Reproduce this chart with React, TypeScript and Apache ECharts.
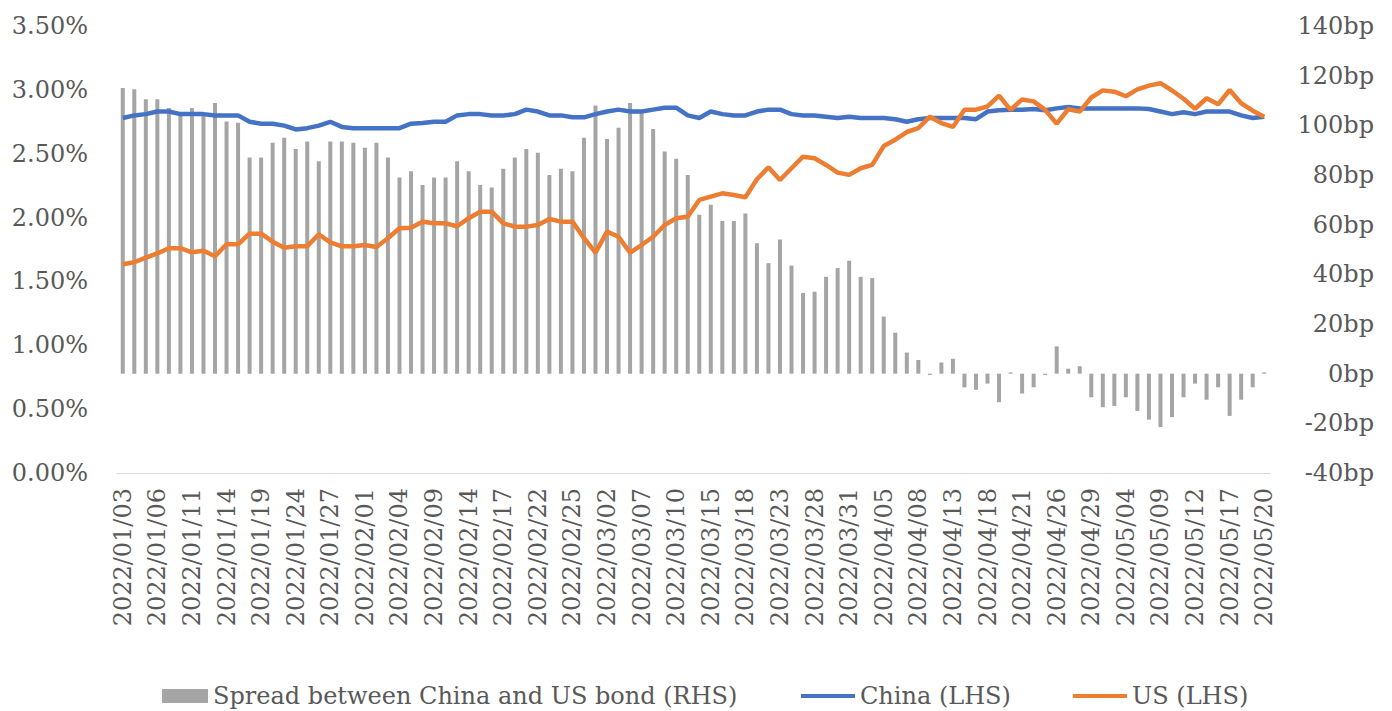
import React, { useEffect, useRef } from "react";
import * as echarts from "echarts";

const dates: string[] = [
  "2022/01/03","2022/01/04","2022/01/05","2022/01/06","2022/01/07","2022/01/10","2022/01/11","2022/01/12","2022/01/13","2022/01/14",
  "2022/01/17","2022/01/18","2022/01/19","2022/01/20","2022/01/21","2022/01/24","2022/01/25","2022/01/26","2022/01/27","2022/01/28",
  "2022/01/31","2022/02/01","2022/02/02","2022/02/03","2022/02/04","2022/02/07","2022/02/08","2022/02/09","2022/02/10","2022/02/11",
  "2022/02/14","2022/02/15","2022/02/16","2022/02/17","2022/02/18","2022/02/21","2022/02/22","2022/02/23","2022/02/24","2022/02/25",
  "2022/02/28","2022/03/01","2022/03/02","2022/03/03","2022/03/04","2022/03/07","2022/03/08","2022/03/09","2022/03/10","2022/03/11",
  "2022/03/14","2022/03/15","2022/03/16","2022/03/17","2022/03/18","2022/03/21","2022/03/22","2022/03/23","2022/03/24","2022/03/25",
  "2022/03/28","2022/03/29","2022/03/30","2022/03/31","2022/04/01","2022/04/04","2022/04/05","2022/04/06","2022/04/07","2022/04/08",
  "2022/04/11","2022/04/12","2022/04/13","2022/04/14","2022/04/15","2022/04/18","2022/04/19","2022/04/20","2022/04/21","2022/04/22",
  "2022/04/25","2022/04/26","2022/04/27","2022/04/28","2022/04/29","2022/05/02","2022/05/03","2022/05/04","2022/05/05","2022/05/06",
  "2022/05/09","2022/05/10","2022/05/11","2022/05/12","2022/05/13","2022/05/16","2022/05/17","2022/05/18","2022/05/19","2022/05/20",
];

// Spread between China and US 10Y bond yields, bp (right axis)
const spread: number[] = [
  115, 114.5, 110.5, 110.5, 107, 105, 107, 104, 109, 101.5,
  101, 87, 87, 93, 95, 90.5, 93.5, 85.5, 93.5, 93.5,
  93, 91, 93, 87, 79, 81.5, 76, 79, 79, 85.5,
  81.5, 76, 75, 82.5, 87, 90.5, 89, 80, 82.5, 81.5,
  95, 108, 94.5, 99, 109, 106, 98.5, 89.5, 86.5, 80,
  64, 68, 61.5, 61.5, 64.5, 52.5, 44.5, 54, 43.5, 32.5,
  33, 39, 42.5, 45.5, 39, 38.5, 23, 16.5, 8.5, 5.5,
  -0.5, 4.5, 6, -5.5, -6.5, -4, -11.5, 0.5, -8, -5.5,
  -0.5, 11, 2, 3, -9.5, -13.5, -13, -9.5, -15, -18.5,
  -21.5, -17.5, -9.5, -4, -10.5, -5.5, -17, -10.5, -5.5, 0.5,
];

// China 10Y yield, % (left axis)
const china: number[] = [
  2.78, 2.8, 2.81, 2.83, 2.83, 2.81, 2.81, 2.81, 2.8, 2.8,
  2.8, 2.75, 2.735, 2.735, 2.72, 2.69, 2.7, 2.72, 2.75, 2.71,
  2.7, 2.7, 2.7, 2.7, 2.7, 2.735, 2.74, 2.75, 2.75, 2.8,
  2.81, 2.81, 2.8, 2.8, 2.81, 2.845, 2.83, 2.8, 2.8, 2.785,
  2.785, 2.81, 2.83, 2.845, 2.83, 2.83, 2.845, 2.86, 2.86, 2.8,
  2.78, 2.83, 2.81, 2.8, 2.8, 2.83, 2.845, 2.845, 2.81, 2.8,
  2.8, 2.79, 2.78, 2.79, 2.78, 2.78, 2.78, 2.77, 2.75, 2.77,
  2.78, 2.78, 2.78, 2.78, 2.77, 2.83, 2.84, 2.845, 2.845, 2.85,
  2.84, 2.855, 2.865, 2.855, 2.855, 2.855, 2.855, 2.855, 2.855, 2.85,
  2.83, 2.81, 2.825, 2.81, 2.83, 2.83, 2.83, 2.8, 2.78, 2.79,
];

// US 10Y yield, % (left axis)
const us: number[] = [
  1.634, 1.65, 1.686, 1.72, 1.76, 1.76, 1.728, 1.741, 1.697, 1.791,
  1.791, 1.874, 1.874, 1.811, 1.764, 1.775, 1.775, 1.869, 1.806, 1.775,
  1.775, 1.785, 1.77, 1.838, 1.916, 1.921, 1.968, 1.955, 1.955, 1.932,
  1.995, 2.046, 2.046, 1.955, 1.929, 1.929, 1.942, 1.989, 1.968, 1.968,
  1.84, 1.725, 1.89, 1.85, 1.725, 1.785, 1.85, 1.942, 1.995, 2.007,
  2.138, 2.164, 2.19, 2.177, 2.159, 2.3, 2.394, 2.294, 2.386, 2.477,
  2.464, 2.412, 2.352, 2.334, 2.386, 2.412, 2.56, 2.61, 2.67, 2.7,
  2.79, 2.74, 2.71, 2.845, 2.845, 2.87, 2.955, 2.843, 2.925, 2.91,
  2.843, 2.735, 2.848, 2.83, 2.94, 2.996, 2.986, 2.95, 3.004, 3.033,
  3.052, 2.995, 2.93, 2.852, 2.934, 2.887, 2.999, 2.895, 2.837, 2.79,
];

const SPREAD_NAME = "Spread between China and US bond (RHS)";
const CHINA_NAME = "China (LHS)";
const US_NAME = "US (LHS)";

const FONT = "DejaVu Serif";
const TEXT_COLOR = "#595959";

export default function App() {
  const ref = useRef<HTMLDivElement>(null);

  useEffect(() => {
    if (!ref.current) return;
    const chart = echarts.init(ref.current, undefined, { renderer: "svg" });
    const legendText = { color: TEXT_COLOR, fontSize: 24, fontFamily: FONT };
    chart.setOption({
      animation: false,
      backgroundColor: "#ffffff",
      textStyle: { fontFamily: FONT },
      grid: { left: 117, right: 122, top: 26, bottom: 238, containLabel: false },
      legend: [
        {
          data: [{ name: SPREAD_NAME, icon: "rect" }],
          left: 157, top: 679, itemWidth: 46, itemHeight: 14, itemGap: 0,
          textStyle: legendText, selectedMode: false,
        },
        {
          data: [{ name: CHINA_NAME, icon: "rect" }],
          left: 796, top: 679, itemWidth: 54, itemHeight: 4,
          textStyle: legendText, selectedMode: false,
        },
        {
          data: [{ name: US_NAME, icon: "rect" }],
          left: 1068, top: 679, itemWidth: 54, itemHeight: 4,
          textStyle: legendText, selectedMode: false,
        },
      ],
      xAxis: {
        type: "category",
        data: dates,
        boundaryGap: true,
        axisTick: { show: false },
        axisLine: { onZero: false, lineStyle: { color: "#d9d9d9", width: 1 } },
        axisLabel: {
          rotate: 90,
          interval: 2,
          margin: 15,
          color: TEXT_COLOR,
          fontSize: 24,
          fontFamily: FONT,
        },
        splitLine: { show: false },
      },
      yAxis: [
        {
          type: "value",
          min: 0,
          max: 3.5,
          interval: 0.5,
          axisLine: { show: false },
          axisTick: { show: false },
          splitLine: { show: false },
          axisLabel: {
            color: TEXT_COLOR,
            fontSize: 24,
            fontFamily: FONT,
            margin: 29,
            formatter: (v: number) => v.toFixed(2) + "%",
          },
        },
        {
          type: "value",
          position: "right",
          min: -40,
          max: 140,
          interval: 20,
          axisLine: { show: false },
          axisTick: { show: false },
          splitLine: { show: false },
          axisLabel: {
            color: TEXT_COLOR,
            fontSize: 24,
            fontFamily: FONT,
            align: "right",
            margin: 104,
            formatter: (v: number) => v + "bp",
          },
        },
      ],
      series: [
        {
          name: SPREAD_NAME,
          type: "bar",
          yAxisIndex: 1,
          data: spread,
          barWidth: 4,
          itemStyle: { color: "#a5a5a5" },
        },
        {
          name: CHINA_NAME,
          type: "line",
          yAxisIndex: 0,
          data: china,
          showSymbol: false,
          symbol: "none",
          lineStyle: { color: "#4472c4", width: 4.5 },
          itemStyle: { color: "#4472c4" },
        },
        {
          name: US_NAME,
          type: "line",
          yAxisIndex: 0,
          data: us,
          showSymbol: false,
          symbol: "none",
          lineStyle: { color: "#ed7d31", width: 4.5 },
          itemStyle: { color: "#ed7d31" },
        },
      ],
    });
    return () => chart.dispose();
  }, []);

  return (
    <div
      ref={ref}
      style={{ position: "fixed", left: 0, top: 0, width: 1392, height: 711, background: "#fff" }}
    />
  );
}
